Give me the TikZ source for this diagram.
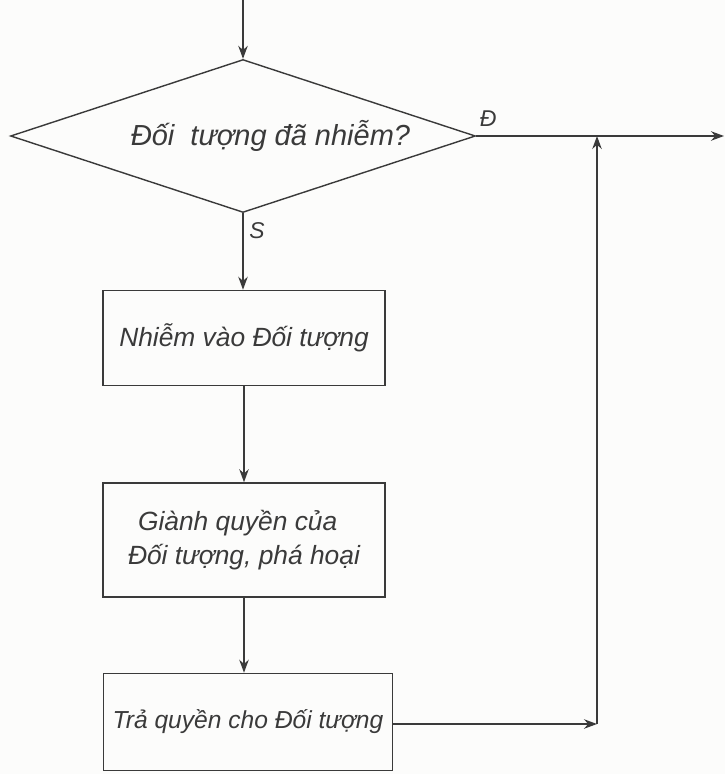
\documentclass[tikz,border=0pt]{standalone}
\usepackage{fontspec}
\setsansfont{Liberation Sans}
\usetikzlibrary{shapes.geometric,arrows.meta}

\definecolor{chartInk}{RGB}{58,58,58}
\definecolor{chartPaper}{RGB}{252,252,251}

\begin{document}
\begin{tikzpicture}[x=.02cm,y=-.02cm,
      flow/.style={draw=chartInk, line width=.75pt,
        -{Stealth[length=2.6mm,width=1.9mm]}},
      question/.style={diamond, aspect=3, draw=chartInk, line width=.8pt,
        minimum width=9.3cm, minimum height=3.06cm, inner sep=0pt,
        font=\fontsize{16.5}{19}\selectfont\sffamily\itshape, text=chartInk},
      action/.style={rectangle, draw=chartInk, line width=.9pt,
        inner sep=0pt, align=left,
        font=\fontsize{15}{19}\selectfont\sffamily\itshape, text=chartInk},
      answer/.style={font=\fontsize{13}{15}\selectfont\sffamily\itshape,
        text=chartInk}]
      \useasboundingbox (0,0) rectangle (725,774);
      \fill[chartPaper] (0,0) rectangle (725,774);

      % decision
      \coordinate (entry) at (243,0);
      \node[question] (seized) at (243,136) {\hspace{1.1cm}Đối\ \ tượng đã nhiễm?};
      \node[answer] (yes) at (488,119) {Đ};
      \node[answer] (no) at (257,231) {S};

      % actions
      \node[action, minimum width=5.64cm, minimum height=1.9cm]
        (infect) at (244,338) {Nhiễm vào Đối tượng};
      \node[action, minimum width=5.64cm, minimum height=2.28cm]
        (grab) at (244,540) {\hspace{.2cm}Giành quyền của\\Đối tượng, phá hoại};
      \node[action, minimum width=5.78cm, minimum height=1.94cm,
        font=\fontsize{14}{17}\selectfont\sffamily\itshape]
        (release) at (248,722) {Trả quyền cho Đối tượng};

      \coordinate (exit) at (724,136);
      \coordinate (joinLow) at (597,724);
      \coordinate (joinHigh) at (597,136);

      \draw[flow] (entry) -- (seized.north);
      \draw[flow] (seized.south) -- (seized.south |- infect.north);
      \draw[flow] (infect.south) -- (grab.north);
      \draw[flow] (grab.south) -- (grab.south |- release.north);
      \draw[flow] (seized.east) -- (exit);
      \draw[flow] (release.east |- joinLow) -- (joinLow);
      \draw[flow] (joinLow) -- (joinHigh);
    \end{tikzpicture}
\end{document}
